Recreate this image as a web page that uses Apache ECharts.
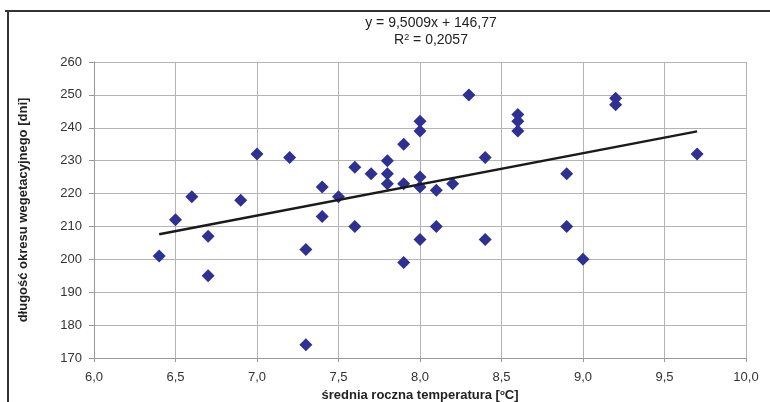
<!DOCTYPE html>
<html>
<head>
<meta charset="utf-8">
<script src="https://cdn.jsdelivr.net/npm/echarts@6/dist/echarts.min.js"></script>
<style>
  html, body { margin: 0; padding: 0; background: #fff; }
  #chart { width: 770px; height: 402px; }
</style>
</head>
<body>
<div id="chart"></div>
<script>
// mean annual temperature [oC]
var temps = [6.4, 6.5, 6.6, 6.7, 6.7, 6.9, 7.0, 7.2, 7.3, 7.3,
             7.4, 7.4, 7.5, 7.6, 7.6, 7.7, 7.8, 7.8, 7.8, 7.9,
             7.9, 7.9, 8.0, 8.0, 8.0, 8.0, 8.0, 8.1, 8.1, 8.2,
             8.3, 8.4, 8.4, 8.6, 8.6, 8.6, 8.9, 8.9, 9.0, 9.2,
             9.2, 9.7];
// vegetation season length [days]
var days = [201, 212, 219, 207, 195, 218, 232, 231, 203, 174,
            222, 213, 219, 228, 210, 226, 230, 226, 223, 235,
            223, 199, 242, 239, 225, 222, 206, 221, 210, 223,
            250, 231, 206, 244, 242, 239, 226, 210, 200, 249,
            247, 232];
// trend line ends
var trendX = [6.4, 9.7];
var trendY = [207.6, 238.9];
var eqText = 'y = 9,5009x + 146,77';
var r2Text = '{n|R}{s|2}{n| = 0,2057}';

var points = temps.map(function (t, i) { return [t, days[i]]; });
var trend = trendX.map(function (t, i) { return [t, trendY[i]]; });

var chart = echarts.init(document.getElementById('chart'));
var fontFam = 'Liberation Sans, Arial, sans-serif';

var option = {
  animation: false,
  textStyle: { fontFamily: fontFam },
  grid: { left: 94, right: 24, top: 62, bottom: 44, containLabel: false, outerBoundsMode: 'none' },
  graphic: [
    { type: 'line', shape: { x1: 5, y1: 11, x2: 770, y2: 11 },
      style: { stroke: '#333', lineWidth: 2 } },
    { type: 'line', shape: { x1: 8, y1: 10, x2: 8, y2: 402 },
      style: { stroke: '#333', lineWidth: 2 } },
    { type: 'text', x: 431, y: 16,
      style: { text: eqText, fontSize: 14, fill: '#222', fontFamily: fontFam, align: 'center' } },
    { type: 'text', x: 431, y: 33,
      style: {
        text: r2Text, fill: '#222', align: 'center',
        rich: {
          n: { fontSize: 14, fontFamily: fontFam, fill: '#222' },
          s: { fontSize: 9, fontFamily: fontFam, fill: '#222', verticalAlign: 'top', padding: [0, 0, 6, 0] }
        }
      } }
  ],
  xAxis: {
    type: 'value', min: 6, max: 10, interval: 0.5,
    name: '{b|średnia roczna temperatura [}{s|o}{b|C]}',
    nameLocation: 'middle', nameGap: 30,
    nameTextStyle: {
      rich: {
        b: { fontSize: 13, fontWeight: 'bold', color: '#222', fontFamily: fontFam },
        s: { fontSize: 8, fontWeight: 'bold', color: '#222', fontFamily: fontFam, verticalAlign: 'top', padding: [0, 0, 6, 0] }
      }
    },
    axisLine: { show: true, lineStyle: { color: '#999', width: 1 } },
    axisTick: { show: true, length: 4, lineStyle: { color: '#999' } },
    axisLabel: { fontSize: 13, color: '#333', margin: 13,
      formatter: function (v) { return v.toFixed(1).replace('.', ','); } },
    splitLine: { show: true, lineStyle: { color: '#b4b4b4', width: 1 } }
  },
  yAxis: {
    type: 'value', min: 170, max: 260, interval: 10,
    name: 'długość okresu wegetacyjnego [dni]',
    nameLocation: 'middle', nameGap: 64,
    nameTextStyle: { fontSize: 13, fontWeight: 'bold', color: '#222' },
    axisLine: { show: true, lineStyle: { color: '#999', width: 1 } },
    axisTick: { show: true, length: 5, lineStyle: { color: '#999' } },
    axisLabel: { fontSize: 13, color: '#333', margin: 12 },
    splitLine: { show: true, lineStyle: { color: '#b4b4b4', width: 1 } }
  },
  series: [
    {
      type: 'scatter', data: points,
      symbol: 'diamond', symbolSize: 13,
      itemStyle: { color: '#2e3192', opacity: 1 }, z: 3
    },
    {
      type: 'line', data: trend, symbol: 'none',
      lineStyle: { color: '#1a1a1a', width: 2.5 }, z: 4
    }
  ]
};
chart.setOption(option);
</script>
</body>
</html>
